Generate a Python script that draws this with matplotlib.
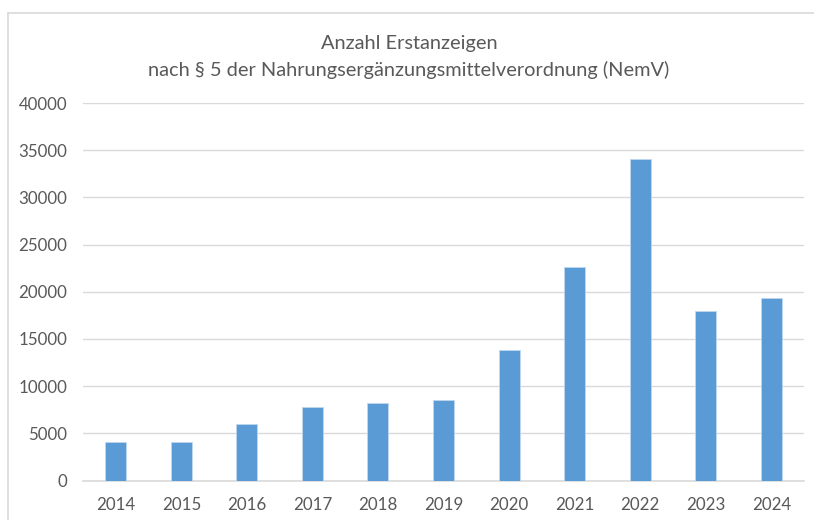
import matplotlib.pyplot as plt
from matplotlib.lines import Line2D

years = ["2014", "2015", "2016", "2017", "2018", "2019",
         "2020", "2021", "2022", "2023", "2024"]
counts = [4110, 4110, 5990, 7760, 8210, 8560,
          13800, 22590, 34100, 17990, 19310]
y_ticks = list(range(0, 40001, 5000))

title_1 = "Anzahl Erstanzeigen"
title_2 = "nach § 5 der Nahrungsergänzungsmittelverordnung (NemV)"

plt.rcParams['font.family'] = ['Lato', 'DejaVu Sans']
text_col = "#595959"
grid_col = "#D9D9D9"

fig = plt.figure(figsize=(8.14, 5.2), dpi=100)
ax = fig.add_axes([83 / 814, 39.5 / 520, 721 / 814, 377.5 / 520])

ax.bar(range(len(years)), counts, width=0.32, color="#5B9BD5",
       edgecolor="#BDD7EE", linewidth=0.6, zorder=3)

ax.set_xlim(-0.5, len(years) - 0.5)
ax.set_ylim(0, 40000)
ax.set_yticks(y_ticks)
ax.set_yticklabels([str(v) for v in y_ticks])
ax.set_xticks(range(len(years)))
ax.set_xticklabels(years)
ax.tick_params(axis="both", length=0, labelsize=12.2, labelcolor=text_col)
ax.tick_params(axis="y", pad=11.5)
ax.tick_params(axis="x", pad=12)
ax.grid(axis="y", color=grid_col, linewidth=1, zorder=0)
for s in ["top", "right", "left"]:
    ax.spines[s].set_visible(False)
ax.spines["bottom"].set_color(grid_col)
ax.spines["bottom"].set_linewidth(1.2)

fig.text(409 / 814, 1 - 43 / 520, title_1, ha="center", va="center",
         fontsize=14.4, color=text_col)
fig.text(409 / 814, 1 - 70 / 520, title_2, ha="center", va="center",
         fontsize=14.4, color=text_col)

# chart border (cropped on right and bottom)
fig.add_artist(Line2D([8 / 814, 1], [1 - 13 / 520] * 2, color=grid_col,
                      linewidth=1.2, transform=fig.transFigure))
fig.add_artist(Line2D([8 / 814] * 2, [0, 1 - 13 / 520], color=grid_col,
                      linewidth=1.2, transform=fig.transFigure))

fig.savefig("out.png", dpi=100)
